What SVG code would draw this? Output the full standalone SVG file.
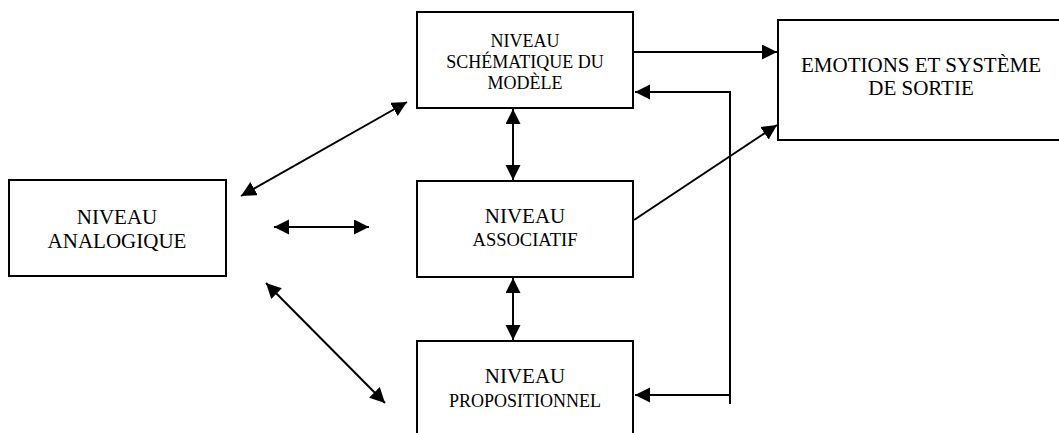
<svg xmlns="http://www.w3.org/2000/svg" width="1059" height="433" viewBox="0 0 1059 433">
<style>
.box{fill:#fff;stroke:#000;stroke-width:2}
.t{font-family:"Liberation Serif","Times New Roman",serif;fill:#000;text-anchor:middle}
.c{fill:none;stroke:#000;stroke-width:2}
</style>
<defs>
<marker id="ah" markerUnits="userSpaceOnUse" markerWidth="16" markerHeight="16" refX="15" refY="7.5" orient="auto-start-reverse">
<path d="M0,0 L15,7.5 L0,15 z" fill="#000"/>
</marker>
</defs>
<rect width="1059" height="433" fill="#fff"/>
<g id="n-schematique">
<rect class="box" x="417" y="12" width="216" height="96"/>
<text class="t" x="525" y="47" font-size="18">NIVEAU</text>
<text class="t" x="525" y="68" font-size="18">SCHÉMATIQUE DU</text>
<text class="t" x="525" y="89" font-size="18">MODÈLE</text>
</g>
<g id="n-emotions">
<rect class="box" x="778" y="20" width="290" height="120"/>
<text class="t" x="921" y="72" font-size="21">EMOTIONS ET SYSTÈME</text>
<text class="t" x="921" y="95" font-size="21">DE SORTIE</text>
</g>
<g id="n-analogique">
<rect class="box" x="9" y="180" width="217" height="96"/>
<text class="t" x="117" y="224" font-size="21">NIVEAU</text>
<text class="t" x="117" y="248" font-size="21">ANALOGIQUE</text>
</g>
<g id="n-associatif">
<rect class="box" x="417" y="181" width="216" height="96"/>
<text class="t" x="525" y="223" font-size="21">NIVEAU</text>
<text class="t" x="525" y="246" font-size="18.5">ASSOCIATIF</text>
</g>
<g id="n-propositionnel">
<rect class="box" x="417" y="341" width="216" height="100"/>
<text class="t" x="525" y="383" font-size="21">NIVEAU</text>
<text class="t" x="525" y="407" font-size="18">PROPOSITIONNEL</text>
</g>
<g id="connectors">
<line class="c" x1="241" y1="196" x2="407" y2="102" marker-start="url(#ah)" marker-end="url(#ah)"/>
<line class="c" x1="274" y1="227" x2="369" y2="227" marker-start="url(#ah)" marker-end="url(#ah)"/>
<line class="c" x1="266" y1="283" x2="385" y2="403" marker-start="url(#ah)" marker-end="url(#ah)"/>
<line class="c" x1="513" y1="109" x2="513" y2="180" marker-start="url(#ah)" marker-end="url(#ah)"/>
<line class="c" x1="513" y1="278" x2="513" y2="340" marker-start="url(#ah)" marker-end="url(#ah)"/>
<line class="c" x1="634" y1="52" x2="777" y2="52" marker-end="url(#ah)"/>
<line class="c" x1="634" y1="220" x2="777" y2="125" marker-end="url(#ah)"/>
<polyline class="c" points="730,404 730,92 635,92" marker-end="url(#ah)"/>
<line class="c" x1="730" y1="395" x2="635" y2="395" marker-end="url(#ah)"/>
</g>
</svg>
